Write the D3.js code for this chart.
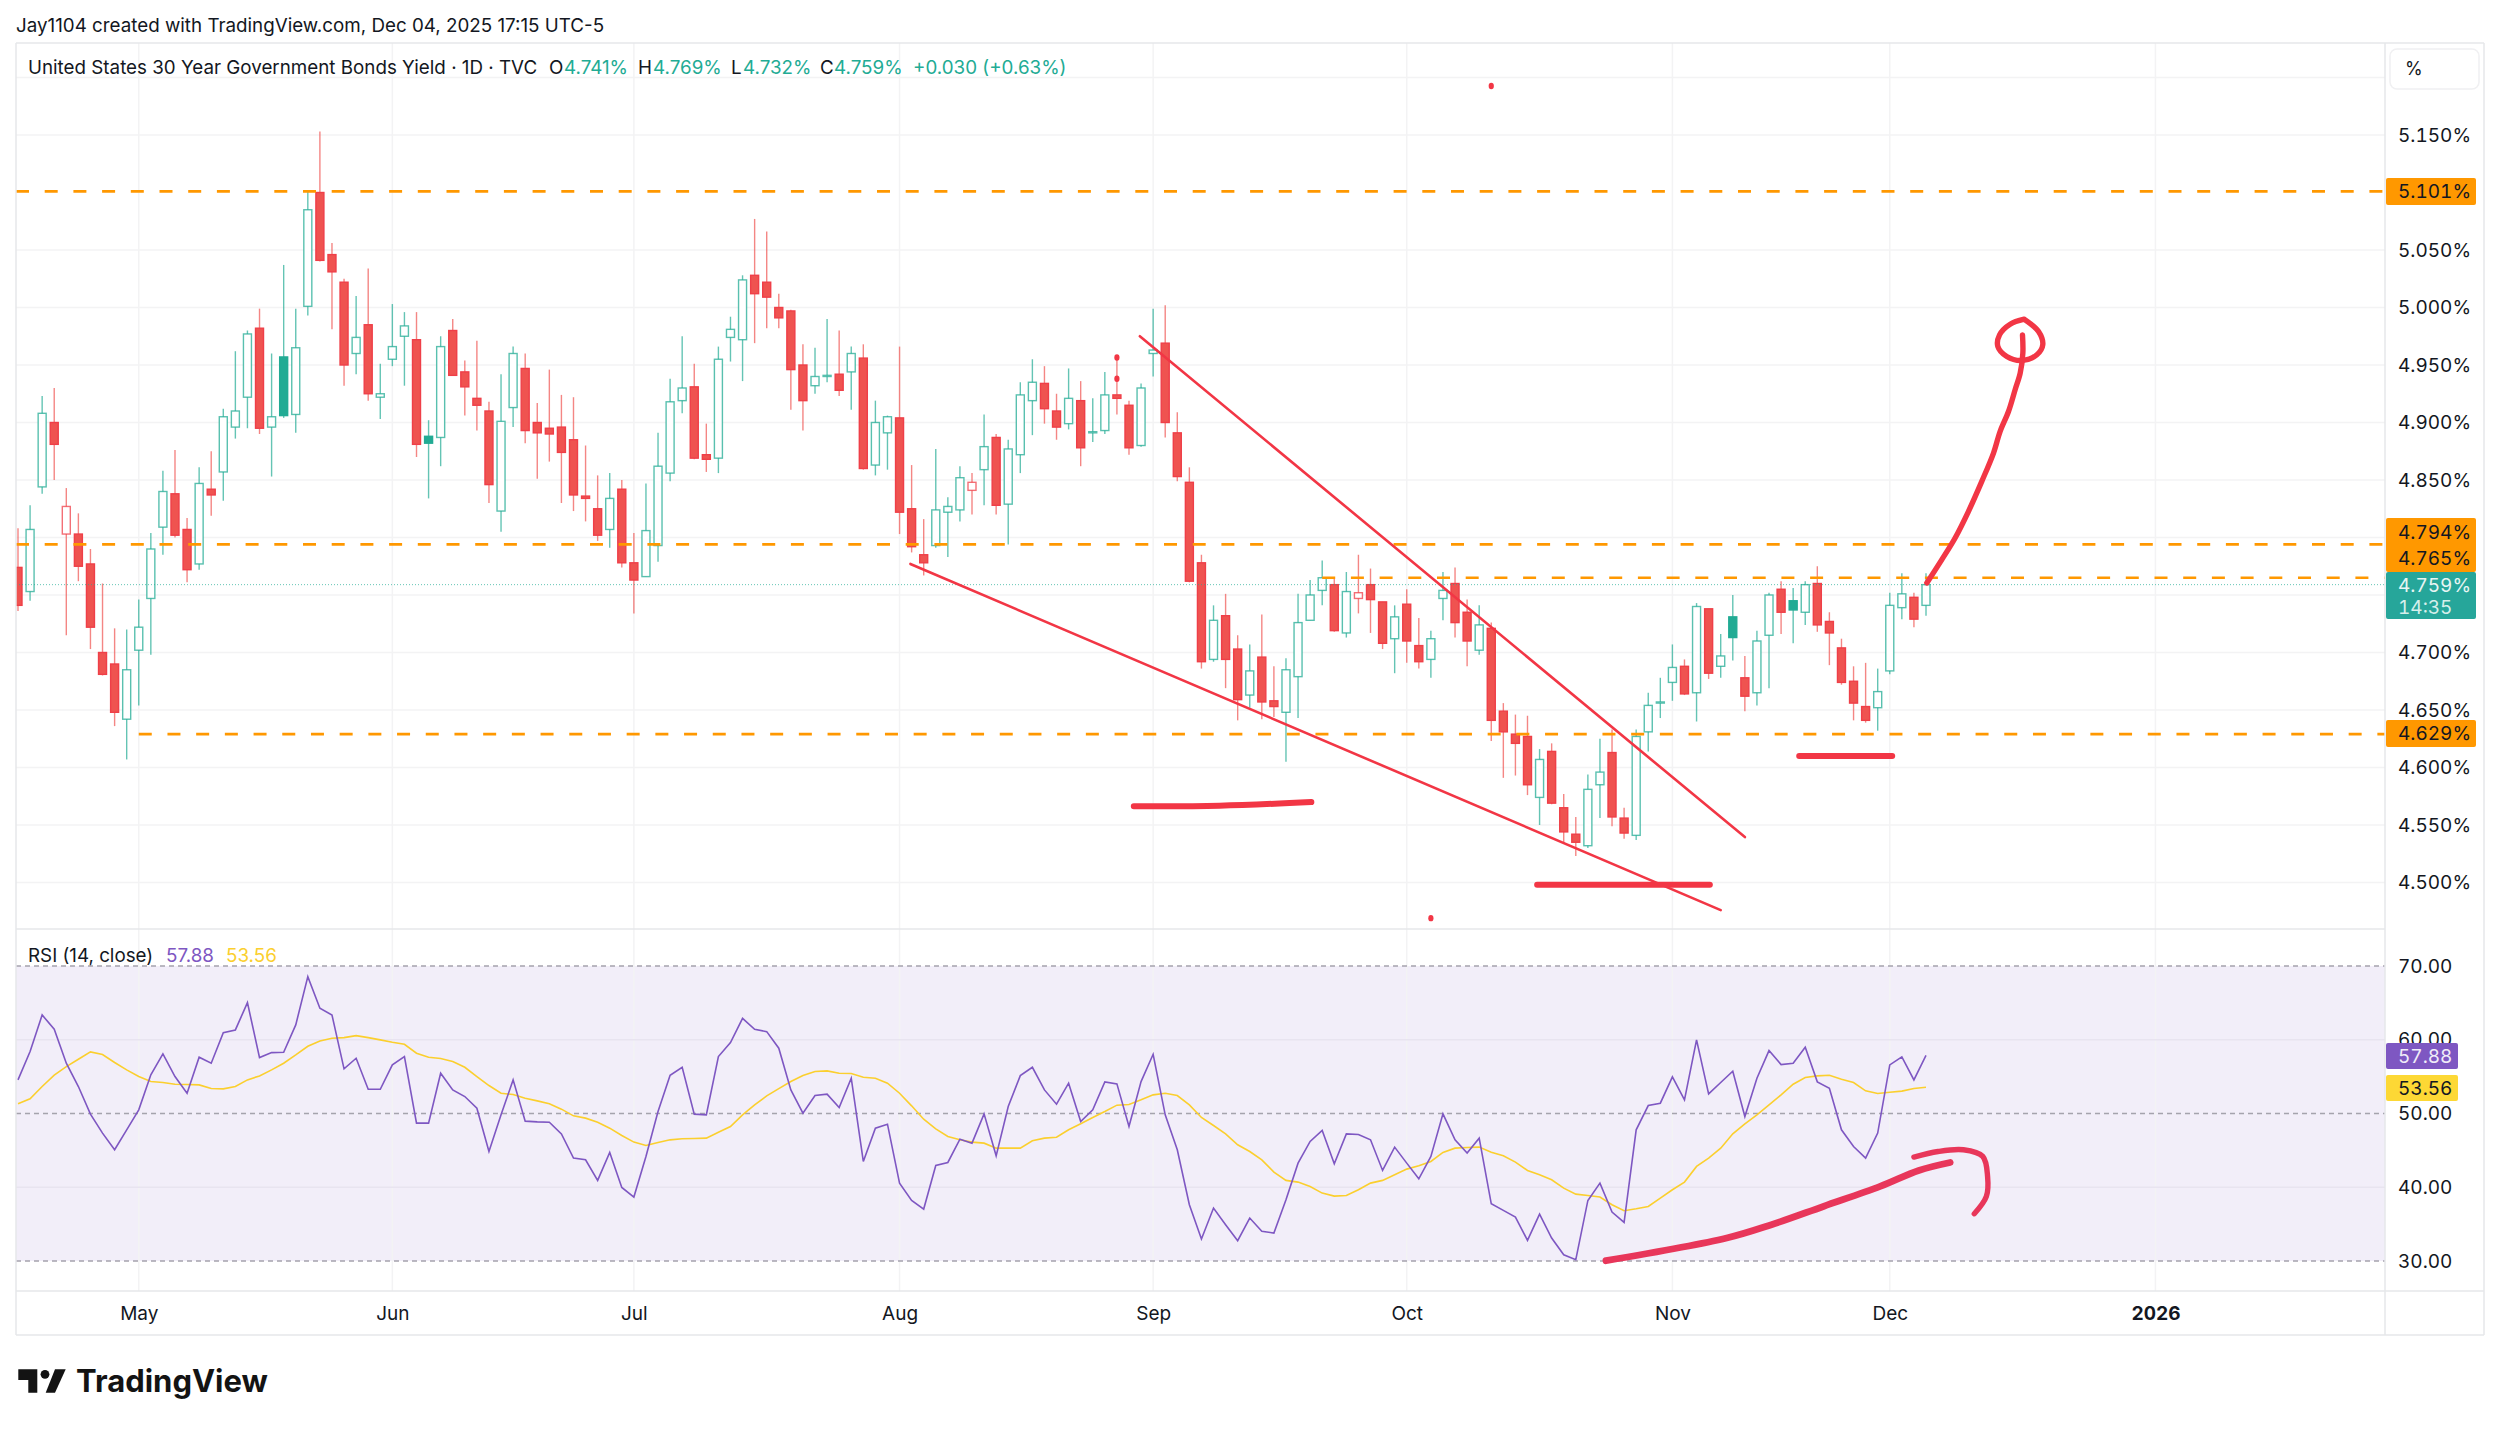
<!DOCTYPE html>
<html>
<head>
<meta charset="utf-8">
<title>US30Y</title>
<script src="https://cdn.jsdelivr.net/npm/d3@7"></script>
<style>
  body { margin: 0; background: #fff; }
  text { font-family: Inter, "Noto Sans", sans-serif; }
</style>
</head>
<body>
<svg id="chart" width="2500" height="1429"></svg>
<script>
// Daily candles, bar 0 is the first bar partly hidden at the left edge
const opens = [
  4.774,4.753,4.844,4.900,4.803,4.803,4.777,4.700,4.690,4.642,
  4.702,4.747,4.809,4.838,4.807,4.777,4.842,4.857,4.896,4.922,
  4.982,4.896,4.957,4.907,5.001,5.100,5.046,5.022,4.960,4.985,
  4.922,4.955,4.975,4.972,4.888,4.887,4.980,4.944,4.921,4.910,
  4.823,4.913,4.947,4.900,4.895,4.896,4.885,4.836,4.825,4.807,
  4.842,4.778,4.766,4.793,4.856,4.919,4.931,4.872,4.869,4.974,
  4.972,5.028,5.022,5.000,4.997,4.950,4.932,4.940,4.942,4.944,
  4.956,4.863,4.891,4.904,4.825,4.785,4.793,4.822,4.824,4.841,
  4.859,4.887,4.829,4.872,4.919,4.934,4.910,4.899,4.919,4.891,
  4.893,4.924,4.915,4.880,4.960,4.969,4.891,4.848,4.778,4.694,
  4.732,4.703,4.663,4.696,4.658,4.648,4.679,4.728,4.754,4.759,
  4.717,4.747,4.759,4.744,4.712,4.742,4.706,4.694,4.747,4.760,
  4.735,4.702,4.721,4.649,4.629,4.627,4.574,4.614,4.565,4.542,
  4.532,4.585,4.613,4.556,4.541,4.631,4.656,4.674,4.688,4.665,
  4.738,4.688,4.731,4.678,4.665,4.715,4.755,4.745,4.735,4.760,
  4.727,4.704,4.675,4.653,4.652,4.684,4.739,4.748,4.741];
const highs = [
  4.808,4.828,4.923,4.930,4.843,4.821,4.790,4.760,4.721,4.720,
  4.746,4.804,4.858,4.876,4.817,4.861,4.875,4.912,4.962,4.980,
  4.999,4.960,5.037,4.999,5.101,5.153,5.056,5.025,5.010,5.034,
  4.951,5.003,4.996,4.996,4.902,4.975,4.990,4.954,4.971,4.918,
  4.942,4.966,4.960,4.917,4.946,4.924,4.922,4.880,4.854,4.856,
  4.850,4.804,4.847,4.891,4.938,4.975,4.951,4.899,4.966,4.992,
  5.028,5.077,5.066,5.012,4.998,4.968,4.965,4.990,4.980,4.966,
  4.968,4.919,4.906,4.966,4.863,4.816,4.877,4.835,4.862,4.856,
  4.907,4.890,4.885,4.935,4.955,4.949,4.925,4.947,4.936,4.921,
  4.944,4.957,4.919,4.934,4.999,5.002,4.909,4.861,4.785,4.741,
  4.751,4.715,4.707,4.733,4.688,4.695,4.751,4.763,4.780,4.765,
  4.770,4.785,4.773,4.744,4.741,4.755,4.730,4.719,4.770,4.774,
  4.746,4.741,4.726,4.656,4.646,4.645,4.616,4.621,4.577,4.557,
  4.594,4.625,4.633,4.565,4.633,4.665,4.678,4.707,4.694,4.743,
  4.738,4.716,4.750,4.697,4.719,4.752,4.762,4.756,4.762,4.775,
  4.735,4.712,4.688,4.691,4.686,4.752,4.769,4.752,4.769];
const lows = [
  4.736,4.745,4.838,4.850,4.715,4.762,4.703,4.680,4.636,4.607,
  4.654,4.698,4.785,4.800,4.761,4.772,4.819,4.832,4.886,4.895,
  4.890,4.853,4.904,4.891,4.993,5.040,4.981,4.932,4.942,4.919,
  4.903,4.949,4.932,4.870,4.834,4.862,4.941,4.906,4.893,4.830,
  4.805,4.896,4.882,4.851,4.866,4.830,4.823,4.814,4.797,4.791,
  4.774,4.734,4.766,4.779,4.849,4.908,4.868,4.857,4.856,4.953,
  4.936,4.969,4.982,4.982,4.911,4.893,4.925,4.935,4.923,4.911,
  4.859,4.854,4.859,4.803,4.787,4.767,4.791,4.783,4.814,4.820,
  4.828,4.820,4.794,4.856,4.889,4.899,4.885,4.894,4.862,4.883,
  4.890,4.907,4.872,4.879,4.940,4.887,4.849,4.761,4.686,4.692,
  4.669,4.641,4.652,4.642,4.644,4.605,4.643,4.728,4.741,4.718,
  4.713,4.734,4.717,4.703,4.682,4.691,4.686,4.678,4.728,4.713,
  4.688,4.698,4.623,4.591,4.593,4.576,4.550,4.568,4.534,4.523,
  4.530,4.556,4.549,4.538,4.537,4.614,4.643,4.658,4.663,4.640,
  4.677,4.678,4.693,4.649,4.654,4.669,4.716,4.708,4.724,4.718,
  4.689,4.672,4.641,4.639,4.632,4.681,4.729,4.722,4.732];
const closes = [
  4.741,4.807,4.908,4.881,4.827,4.775,4.722,4.681,4.648,4.685,
  4.722,4.790,4.840,4.802,4.772,4.847,4.837,4.905,4.910,4.977,
  4.895,4.905,4.906,4.965,5.085,5.041,5.031,4.950,4.974,4.925,
  4.925,4.966,4.984,4.881,4.882,4.966,4.941,4.931,4.915,4.846,
  4.901,4.960,4.893,4.891,4.890,4.874,4.837,4.834,4.802,4.834,
  4.778,4.763,4.806,4.862,4.918,4.930,4.869,4.868,4.955,4.981,
  5.024,5.012,5.009,4.991,4.946,4.919,4.940,4.941,4.928,4.960,
  4.860,4.900,4.905,4.822,4.792,4.778,4.824,4.827,4.852,4.848,
  4.879,4.828,4.877,4.924,4.935,4.912,4.896,4.921,4.878,4.892,
  4.924,4.921,4.878,4.930,4.963,4.900,4.853,4.762,4.692,4.728,
  4.694,4.659,4.684,4.657,4.653,4.685,4.726,4.750,4.765,4.719,
  4.753,4.752,4.746,4.708,4.731,4.710,4.692,4.712,4.754,4.726,
  4.710,4.724,4.641,4.631,4.621,4.585,4.607,4.569,4.544,4.535,
  4.581,4.596,4.557,4.543,4.627,4.654,4.657,4.687,4.664,4.740,
  4.682,4.697,4.713,4.662,4.710,4.750,4.735,4.737,4.759,4.724,
  4.717,4.674,4.656,4.641,4.666,4.741,4.751,4.729,4.759];

// RSI (14) and its moving average, one value per bar
const rsiValues = [
  54.56,58.40,63.36,61.42,56.82,53.66,49.91,47.34,45.08,47.79,
  50.50,55.24,58.08,55.01,52.75,57.63,56.82,60.97,61.33,65.03,
  57.58,58.26,58.30,62.01,68.56,64.27,63.36,56.05,57.49,53.29,
  53.29,56.59,57.72,48.69,48.69,55.46,53.20,52.30,50.72,44.85,
  49.82,54.56,48.96,48.87,48.82,47.24,43.95,43.72,40.93,44.72,
  39.98,38.67,44.17,50.27,55.19,56.27,49.91,49.82,57.72,59.61,
  62.91,61.42,61.10,58.85,53.20,50.04,52.44,52.62,50.81,54.78,
  43.50,48.01,48.55,40.56,38.21,37.04,42.95,43.36,46.52,45.98,
  49.95,44.26,50.95,55.14,56.27,53.20,51.26,54.11,48.91,50.50,
  54.29,54.02,48.24,54.33,58.03,49.82,45.08,37.63,32.98,37.18,
  34.92,32.75,35.82,34.02,33.79,38.30,43.27,46.21,47.70,43.18,
  47.24,47.15,46.43,42.28,45.44,43.27,41.15,44.17,49.95,46.43,
  44.63,46.66,37.76,36.86,35.96,32.80,36.36,33.11,30.85,30.18,
  38.21,40.56,36.64,35.23,47.79,51.08,51.40,54.96,51.85,59.98,
  52.66,54.20,55.73,49.59,54.78,58.53,56.63,56.82,58.98,54.29,
  53.43,47.79,45.53,43.95,47.34,56.59,57.67,54.56,57.88];
const rsiMaValues = [
  51.31,51.99,53.66,55.19,56.36,57.36,58.35,57.99,56.91,55.91,
  55.01,54.33,54.20,53.97,53.93,53.88,53.38,53.34,53.66,54.56,
  55.10,55.91,56.82,57.94,59.12,59.84,60.20,60.29,60.56,60.29,
  59.98,59.66,59.39,58.17,57.63,57.45,57.04,56.27,55.01,53.79,
  52.75,52.57,52.07,51.71,51.31,50.59,49.68,49.37,48.82,48.01,
  47.02,46.12,45.67,46.07,46.43,46.57,46.61,46.66,47.47,48.24,
  49.82,51.17,52.39,53.38,54.33,55.14,55.69,55.78,55.46,55.42,
  54.92,54.78,54.11,52.75,51.04,49.23,47.92,46.88,46.43,46.12,
  45.98,45.30,45.30,45.30,46.30,46.66,46.79,47.79,48.60,49.46,
  50.27,51.13,51.22,51.85,52.53,52.75,52.44,51.17,49.46,48.37,
  47.24,45.76,44.85,43.72,42.05,40.93,40.70,40.11,39.21,38.80,
  38.89,39.66,40.56,40.93,41.69,42.46,42.91,43.50,44.72,45.30,
  45.39,45.44,44.76,44.26,43.41,42.28,41.69,41.01,39.88,39.07,
  38.89,38.67,37.63,36.82,37.09,37.40,38.53,39.66,40.70,42.82,
  43.95,45.30,47.24,48.60,49.82,51.17,52.53,53.97,54.88,55.10,
  55.19,54.65,54.20,53.07,52.71,52.89,53.03,53.38,53.56];

// Axis ticks
const priceTicks = [5.15,5.10,5.05,5.00,4.95,4.90,4.85,4.80,4.75,4.70,4.65,4.60,4.55,4.50];
const priceGrid = [5.20].concat(priceTicks.filter(d => d !== 5.10));
const hiddenPriceLabels = [5.10, 4.80, 4.75];
const rsiTicks = [70,60,50,40,30];
const rsiDashed = [70,50,30];
const monthBars = [10,31,51,73,94,115,137,155,177];
const monthLabels = ["May","Jun","Jul","Aug","Sep","Oct","Nov","Dec","2026"];

// Horizontal levels: value and first bar
const levelValues = [5.101,4.794,4.765,4.629];
const levelStart = [-0.2,-0.2,108,10];
const lastClose = 4.759;
const lastRsi = 57.88;
const lastRsiMa = 53.56;

// Hand drawn annotations as [bar, yield] or [bar, rsi]
const upperTrend = [[92.9,4.975],[143.0,4.5395]];
const lowerTrend = [[73.9,4.777],[141.0,4.476]];
const sepSupport = [[92.4,4.5664],[99.5,4.5668],[107.1,4.5699]];
const octSupport = [[125.8,4.498],[140.1,4.498]];
const novSupport = [[147.5,4.610],[155.2,4.610]];
const upArrow = [[158.07,4.7605],[159.31,4.7808],[160.41,4.7996],[161.52,4.8228],[162.62,4.8488],[163.59,4.8734],
  [164.14,4.8923],[164.83,4.9096],[165.38,4.9285],[165.80,4.9429],[166.02,4.9603],[165.99,4.9762]];
const targetLoop = [[166.13,4.9898],[164.97,4.9855],[164.09,4.9762],[163.95,4.9661],[164.69,4.9574],[165.94,4.9539],
  [167.18,4.9589],[167.67,4.9676],[167.32,4.9791],[166.13,4.9898]];
const rsiRise = [[131.5,30.04],[141.5,33.11],[145.2,34.92],[149.5,37.40],[154.2,40.11],[157.4,42.28],[160.0,43.36]];
const rsiHook = [[157.0,44.09],[159.0,44.85],[161.1,45.08],[162.7,44.18],[163.1,41.47],[163.0,38.76],[162.0,36.41]];
const markDots = [[91,4.9565],[91,4.938],[122.0,5.1926],[117.0,4.469]];

const GREEN = "#22ab94", RED = "#ef5350", ORANGE = "#ff9800", INK = "#f23645";
const PURPLE = "#7e57c2", YELLOW = "#fdd835", GRID = "#f3f3f4", EDGE = "#e6e7ea", TEXT = "#131722";

// Layout of the panes
const paneLeft = 16, paneRight = 2385, paneOuter = 2484, paneTop = 43;
const mainBottom = 929, rsiBottom = 1291, axisBottom = 1335;

const x = d3.scaleLinear().domain([0, 158]).range([18, 1926]);
const y = d3.scaleLinear().domain([4.5, 5.15]).range([882.5, 135]);
const yRsi = d3.scaleLinear().domain([30, 70]).range([1261, 966]);

const svg = d3.select("#chart");

svg.append("clipPath").attr("id", "mainClip").append("rect")
  .attr("x", paneLeft).attr("y", paneTop).attr("width", paneRight - paneLeft).attr("height", mainBottom - paneTop);
svg.append("clipPath").attr("id", "rsiClip").append("rect")
  .attr("x", paneLeft).attr("y", mainBottom).attr("width", paneRight - paneLeft).attr("height", rsiBottom - mainBottom);

// RSI band goes under the grid
svg.append("rect")
  .attr("x", paneLeft).attr("width", paneRight - paneLeft)
  .attr("y", yRsi(70)).attr("height", yRsi(30) - yRsi(70))
  .attr("fill", PURPLE).attr("fill-opacity", 0.1);

// Grid
const grid = svg.append("g").attr("stroke", GRID).attr("stroke-width", 1.5);
grid.selectAll(".h").data(priceGrid).join("line").attr("class", "h")
  .attr("x1", paneLeft).attr("x2", paneRight).attr("y1", d => y(d)).attr("y2", d => y(d));
grid.selectAll(".m").data(monthBars).join("line").attr("class", "m")
  .attr("x1", d => x(d)).attr("x2", d => x(d)).attr("y1", paneTop).attr("y2", rsiBottom);
grid.selectAll(".r").data(rsiTicks.filter(d => !rsiDashed.includes(d))).join("line").attr("class", "r")
  .attr("x1", paneLeft).attr("x2", paneRight).attr("y1", d => yRsi(d)).attr("y2", d => yRsi(d))
  .attr("stroke", "#e8e4f0");
svg.selectAll(".rd").data(rsiDashed).join("line").attr("class", "rd")
  .attr("x1", paneLeft).attr("x2", paneRight).attr("y1", d => yRsi(d)).attr("y2", d => yRsi(d))
  .attr("stroke", "#a5a3ad").attr("stroke-width", 1.3).attr("stroke-dasharray", "5 4");

// Candles: hollow when close is above open, colour from the previous close
const candles = d3.range(closes.length).map(i => ({
  i, o: opens[i], h: highs[i], l: lows[i], c: closes[i],
  up: i > 0 ? closes[i] >= closes[i - 1] : false
}));
const candleG = svg.append("g").attr("clip-path", "url(#mainClip)");
candleG.selectAll(".wick").data(candles).join("line").attr("class", "wick")
  .attr("x1", d => x(d.i)).attr("x2", d => x(d.i))
  .attr("y1", d => y(d.h)).attr("y2", d => y(d.l))
  .attr("stroke", d => d.up ? GREEN : RED).attr("stroke-width", 1.4).attr("stroke-opacity", 0.7);
candleG.selectAll(".body").data(candles).join("rect").attr("class", "body")
  .attr("x", d => x(d.i) - 4).attr("width", 8)
  .attr("y", d => y(Math.max(d.o, d.c)))
  .attr("height", d => Math.max(1, Math.abs(y(d.o) - y(d.c))))
  .attr("fill", d => d.c > d.o ? "#fff" : (d.up ? GREEN : RED))
  .attr("stroke", d => d.up ? GREEN : "#ef3f48").attr("stroke-width", 1.4)
  .attr("stroke-opacity", d => d.c > d.o ? 0.75 : 1);

// Level lines
svg.append("line")
  .attr("x1", paneLeft).attr("x2", paneRight).attr("y1", y(lastClose)).attr("y2", y(lastClose))
  .attr("stroke", GREEN).attr("stroke-opacity", 0.7).attr("stroke-width", 1).attr("stroke-dasharray", "1 2");
svg.selectAll(".level").data(levelValues).join("line").attr("class", "level")
  .attr("x1", (d, i) => Math.max(paneLeft, x(levelStart[i]))).attr("x2", paneRight)
  .attr("y1", d => y(d)).attr("y2", d => y(d))
  .attr("stroke", ORANGE).attr("stroke-width", 2.6).attr("stroke-dasharray", "13 15.7");

// RSI lines
const rsiLine = d3.line().x((d, i) => x(i)).y(d => yRsi(d));
const rsiG = svg.append("g").attr("clip-path", "url(#rsiClip)").attr("fill", "none");
rsiG.append("path").attr("d", rsiLine(rsiMaValues)).attr("stroke", "#fbcf2e").attr("stroke-width", 1.6);
rsiG.append("path").attr("d", rsiLine(rsiValues)).attr("stroke", PURPLE).attr("stroke-width", 1.6);

// Hand drawn annotations
const priceInk = d3.line().x(d => x(d[0])).y(d => y(d[1])).curve(d3.curveCatmullRom);
const rsiInk = d3.line().x(d => x(d[0])).y(d => yRsi(d[1])).curve(d3.curveCatmullRom);
const ink = svg.append("g").attr("fill", "none").attr("stroke", INK).attr("stroke-linecap", "round").attr("stroke-linejoin", "round");
ink.selectAll(".trend").data([upperTrend, lowerTrend]).join("path").attr("class", "trend")
  .attr("d", priceInk).attr("stroke-width", 2.6);
ink.selectAll(".support").data([sepSupport, octSupport, novSupport]).join("path").attr("class", "support")
  .attr("d", priceInk).attr("stroke-width", 6);
ink.selectAll(".arrow").data([upArrow, targetLoop]).join("path").attr("class", "arrow")
  .attr("d", priceInk).attr("stroke-width", 5.4);
ink.append("path").attr("d", rsiInk(rsiRise)).attr("stroke", "#e8365a").attr("stroke-width", 6.8);
ink.append("path").attr("d", rsiInk(rsiHook)).attr("stroke", "#e8365a").attr("stroke-width", 5.4);
svg.selectAll(".dot").data(markDots).join("ellipse").attr("class", "dot")
  .attr("cx", d => x(d[0])).attr("cy", d => y(d[1])).attr("rx", 2.6).attr("ry", 3.2).attr("fill", INK);

// Frame of the panes
const frame = svg.append("g").attr("stroke", EDGE).attr("stroke-width", 1.5);
[[paneLeft, paneTop, paneOuter, paneTop], [paneLeft, mainBottom, paneRight, mainBottom], [paneLeft, rsiBottom, paneOuter, rsiBottom],
 [paneLeft, axisBottom, paneOuter, axisBottom], [paneLeft, paneTop, paneLeft, axisBottom], [paneRight, paneTop, paneRight, axisBottom],
 [paneOuter, paneTop, paneOuter, axisBottom]].forEach(s => {
  frame.append("line").attr("x1", s[0]).attr("y1", s[1]).attr("x2", s[2]).attr("y2", s[3]);
});

// Axes
const priceAxis = d3.axisRight(y).tickValues(priceTicks.filter(d => !hiddenPriceLabels.includes(d)))
  .tickFormat(d => d.toFixed(3) + "%").tickSize(0).tickPadding(13);
const rsiAxis = d3.axisRight(yRsi).tickValues(rsiTicks).tickFormat(d => d.toFixed(2)).tickSize(0).tickPadding(13);
const timeAxis = d3.axisBottom(x).tickValues(monthBars).tickFormat((d, i) => monthLabels[i]).tickSize(0).tickPadding(16);

[svg.append("g").attr("transform", `translate(${paneRight},0)`).call(priceAxis),
 svg.append("g").attr("transform", `translate(${paneRight},0)`).call(rsiAxis),
 svg.append("g").attr("transform", `translate(0,${rsiBottom})`).call(timeAxis)].forEach(a => {
  a.select(".domain").remove();
  a.selectAll("text").attr("fill", TEXT).style("font-size", "19px").style("font-family", "Inter, sans-serif")
    .style("font-variant-numeric", "tabular-nums");
});
svg.selectAll("g .tick text").filter(function() { return d3.select(this).text() === "2026"; })
  .style("font-weight", "700");

// Price and indicator tags on the right scale
function tag(yTop, yEnd, fill, endX) {
  svg.append("rect").attr("x", paneRight + 1).attr("y", yTop).attr("width", endX - paneRight - 1).attr("height", yEnd - yTop)
    .attr("rx", 2).attr("fill", fill);
}
function tagText(txt, yMid, fill) {
  svg.append("text").attr("x", paneRight + 13).attr("y", yMid).attr("dy", "0.35em")
    .attr("fill", fill).style("font-size", "19px").style("font-variant-numeric", "tabular-nums").text(txt);
}
tag(178, 205, ORANGE, 2476); tagText("5.101%", y(5.101), TEXT);
tag(518, 572, ORANGE, 2476); tagText("4.794%", 532, TEXT); tagText("4.765%", 558, TEXT);
tag(572, 619, "#26a69a", 2476); tagText("4.759%", 585, "#e8f5f3"); tagText("14:35", 607, "#d5efeb");
tag(720, 747, ORANGE, 2476); tagText("4.629%", 733, TEXT);
tag(1043, 1069, PURPLE, 2458); tagText(lastRsi.toFixed(2), 1056, "#f0ecf8");
tag(1075, 1101, YELLOW, 2458); tagText(lastRsiMa.toFixed(2), 1088, TEXT);

// Scale mode button
svg.append("rect").attr("x", 2390).attr("y", 49).attr("width", 89).attr("height", 40).attr("rx", 7)
  .attr("fill", "#fff").attr("stroke", "#f0f0f2").attr("stroke-width", 1.5);
svg.append("text").attr("x", 2405).attr("y", 69).attr("dy", "0.35em").attr("fill", TEXT).style("font-size", "18px").text("%");

// Header and legends
svg.append("text").attr("x", 16).attr("y", 25).attr("dy", "0.35em").attr("fill", TEXT)
  .style("font-size", "18.8px").text("Jay1104 created with TradingView.com, Dec 04, 2025 17:15 UTC-5");

const legendParts = [
  [28, "United States 30 Year Government Bonds Yield · 1D · TVC", TEXT],
  [549, "O", TEXT], [564, "4.741%", GREEN],
  [638, "H", TEXT], [653, "4.769%", GREEN],
  [731, "L", TEXT], [743, "4.732%", GREEN],
  [820, "C", TEXT], [834, "4.759%", GREEN],
  [913, "+0.030 (+0.63%)", GREEN]
];
svg.selectAll(".legend").data(legendParts).join("text").attr("class", "legend")
  .attr("x", d => d[0]).attr("y", 67).attr("dy", "0.35em").attr("fill", d => d[2])
  .style("font-size", "18.8px").text(d => d[1]);

const rsiLegend = [[28, "RSI (14, close)", TEXT], [166, "57.88", PURPLE], [226, "53.56", "#fbcf2e"]];
svg.selectAll(".rsiLegend").data(rsiLegend).join("text").attr("class", "rsiLegend")
  .attr("x", d => d[0]).attr("y", 955).attr("dy", "0.35em").attr("fill", d => d[2])
  .style("font-size", "18.8px").text(d => d[1]);

// TradingView logo
const logo = svg.append("g").attr("fill", "#131313");
logo.append("polygon").attr("points", "18.3,1369.3 37.3,1369.3 37.3,1392.7 28.3,1392.7 28.3,1380 18.3,1380");
logo.append("circle").attr("cx", 45).attr("cy", 1374.3).attr("r", 4.4);
logo.append("polygon").attr("points", "55,1369.3 65.7,1369.3 55,1392.7 45.7,1392.7");
logo.append("text").attr("x", 76).attr("y", 1392).attr("fill", "#131313")
  .style("font-size", "31px").style("font-weight", "700").text("TradingView");
</script>
</body>
</html>
